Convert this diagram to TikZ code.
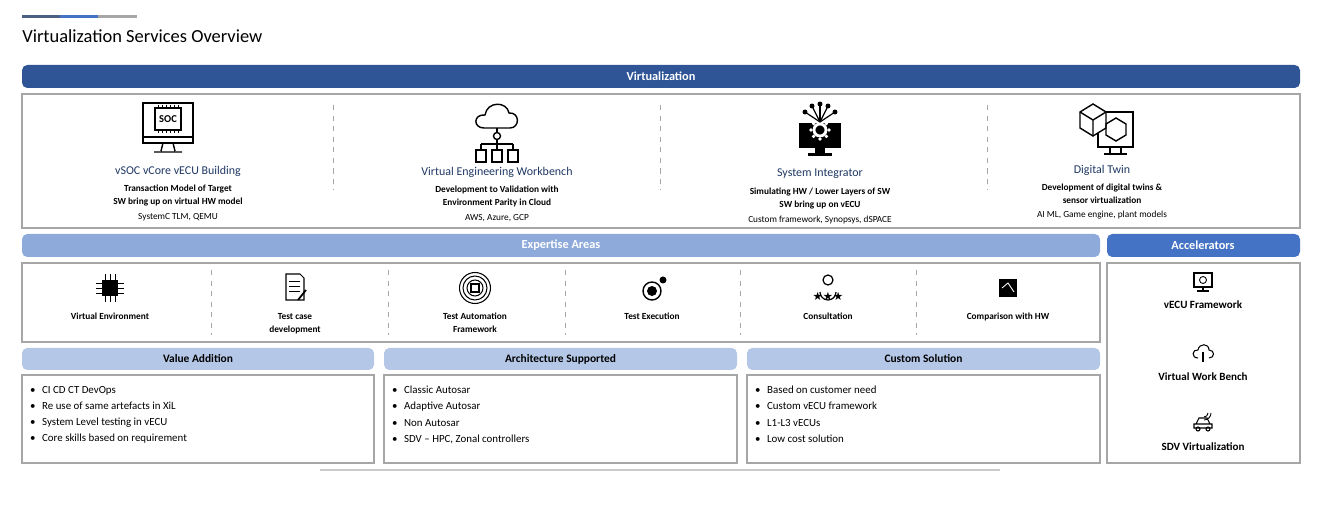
\documentclass[tikz,border=0pt]{standalone}
\usepackage{fontspec}
\setmainfont{Carlito}
\newfontfamily\symfont{DejaVu Sans}
\usepackage{tikz}
\usetikzlibrary{positioning}
\definecolor{darkband}{HTML}{2F5597}
\definecolor{midband}{HTML}{4472C4}
\definecolor{lightband}{HTML}{8EAADB}
\definecolor{paleband}{HTML}{B4C7E7}
\definecolor{navytxt}{HTML}{1F3864}
\definecolor{edgegray}{HTML}{A6A6A6}
\begin{document}
\begin{tikzpicture}
[x=0.02cm, y=-0.02cm,
 band/.style ={draw=none, rounded corners=3pt},
 panel/.style ={draw=edgegray, line width=0.6pt, fill=white},
 sep/.style ={draw=edgegray, dashed, line width=0.4pt},
 bandtxt/.style ={text=white, font=\bfseries\fontsize{7}{8}\selectfont},
 hdrtxt/.style ={text=black, font=\bfseries\fontsize{6.5}{8}\selectfont},
 ttl/.style ={text=navytxt, font=\fontsize{6.8}{8}\selectfont, align=center},
 sub/.style ={font=\bfseries\fontsize{5.3}{7.3}\selectfont, align=center},
 tool/.style ={font=\fontsize{5.3}{7.3}\selectfont, align=center},
 item/.style ={font=\bfseries\fontsize{5.3}{7.3}\selectfont, align=center, anchor=north},
 acc/.style ={font=\bfseries\fontsize{6.3}{8}\selectfont, align=center},
 bullets/.style ={font=\fontsize{6.2}{9.2}\selectfont, align=left, anchor=north west},
 icon/.style ={draw=black, line width=0.8pt}]
\useasboundingbox (0,0) rectangle (1320,520);
% title
\fill[navytxt!80] (22,15) rectangle (60,18);
\fill[midband] (60,15) rectangle (98,18);
\fill[edgegray] (98,15) rectangle (137,18);
\node[anchor=west, font=\fontsize{10.5}{12}\selectfont, inner sep=0pt] (title) at (22,36) {Virtualization Services Overview};
% virtualization
\fill[band, darkband] (22,65) rectangle (1300,88);
\node[bandtxt] (virt) at (661,76.5) {Virtualization};
\draw[panel] (22,94) rectangle (1300,228);
\foreach \x in {333,660,987} \draw[sep] (\x,105) -- (\x,190);
\node[ttl] (t1) at (178,171) {vSOC vCore vECU Building};
\node[sub, below=-2pt of t1] (s1) {Transaction Model of Target\\SW bring up on virtual HW model};
\node[tool, below=-3pt of s1] (k1) {SystemC TLM, QEMU};
\node[ttl] (t2) at (497,172) {Virtual Engineering Workbench};
\node[sub, below=-2pt of t2] (s2) {Development to Validation with\\Environment Parity in Cloud};
\node[tool, below=-3pt of s2] (k2) {AWS, Azure, GCP};
\node[ttl] (t3) at (820,174) {System Integrator};
\node[sub, below=-2pt of t3] (s3) {Simulating HW / Lower Layers of SW\\SW bring up on vECU};
\node[tool, below=-3pt of s3] (k3) {Custom framework, Synopsys, dSPACE};
\node[ttl] (t4) at (1102,170) {Digital Twin};
\node[sub, below=-2pt of t4] (s4) {Development of digital twins \&\\sensor virtualization};
\node[tool, below=-3pt of s4] (k4) {AI ML, Game engine, plant models};
% icon: soc monitor
\draw[icon] (143,103) rectangle (193,143);
\draw[icon] (143,137) -- (193,137);
\draw[icon] (163,143) -- (161,151) (173,143) -- (175,151) (154,152) -- (182,152);
\draw[icon] (155,108) rectangle (181,130);
\node[font=\bfseries\fontsize{6}{6}\selectfont] (socl) at (168,119) {SOC};
\foreach \x in {158,162,...,178} \draw[line width=0.5pt] (\x,105) -- (\x,108) (\x,130) -- (\x,133);
% icon: cloud hierarchy
\draw[icon] (484,128) .. controls (473,128) and (473,114) .. (485,115) .. controls (487,101) and (507,101) .. (509,113) .. controls (520,112) and (520,128) .. (510,128) -- cycle;
\draw[icon] (497,136) circle (3.5);
\draw[icon] (497,128) -- (497,132.5) (497,139.5) -- (497,144) (481,144) -- (513,144) (481,144) -- (481,150) (497,144) -- (497,150) (513,144) -- (513,150);
\draw[icon] (476,150) rectangle (486,162) (492,150) rectangle (502,162) (508,150) rectangle (518,162);
% icon: gear monitor
\fill (799,123) rectangle (841,148);
\fill (815,148) rectangle (825,153);
\fill (808,153) rectangle (832,156);
\draw[white, line width=1.6pt] (820,130) circle (6);
\foreach \a in {0,45,...,315} \fill[white] (820,130) ++(\a:9) circle (1.8);
\foreach \p/\q in {805/112,812/106,820/104,828/106,835/112} \draw[line width=0.7pt] (820,122) -- (\p,\q) node[circle, fill=black, inner sep=1pt] {};
% icon: digital twin
\draw[icon] (1098,112) rectangle (1133,147);
\draw[icon] (1110,147) -- (1110,153) (1121,147) -- (1121,153) (1104,154) -- (1127,154);
\draw[icon, fill=white] (1080,112) -- (1093,104) -- (1106,112) -- (1106,128) -- (1093,136) -- (1080,128) -- cycle;
\draw[icon] (1080,112) -- (1093,120) -- (1106,112) (1093,120) -- (1093,136);
\draw[icon] (1116,118) -- (1126,124) -- (1126,135) -- (1116,141) -- (1106,135) -- (1106,124) -- cycle;
% expertise areas
\fill[band, lightband] (22,234) rectangle (1100,257);
\node[bandtxt] (exp) at (561,245.5) {Expertise Areas};
\fill[band, midband] (1107,234) rectangle (1300,257);
\node[bandtxt] (accb) at (1203,245.5) {Accelerators};
\draw[panel] (22,263) rectangle (1100,342);
\foreach \x in {211,388,565,740,916} \draw[sep] (\x,270) -- (\x,335);
\node[item] (e1) at (110,307) {Virtual Environment};
\node[item] (e2) at (295,307) {Test case\\development};
\node[item] (e3) at (475,307) {Test Automation\\Framework};
\node[item] (e4) at (652,307) {Test Execution};
\node[item] (e5) at (828,307) {Consultation};
\node[item] (e6) at (1008,307) {Comparison with HW};
% small icons
\foreach \y in {283,288,293} \draw[line width=0.5pt] (96,\y) -- (124,\y);
\foreach \x in {105,110,115} \draw[line width=0.5pt] (\x,274) -- (\x,302);
\fill (102,280) rectangle (118,296);
\draw[line width=0.6pt] (286,274) -- (300,274) -- (304,278) -- (304,300) -- (286,300) -- cycle;
\foreach \y in {281,286,291} \draw[line width=0.5pt] (289,\y) -- (300,\y);
\draw[line width=1pt] (298,300) -- (306,290);
\draw[line width=0.6pt] (475,288) circle (8) (475,288) circle (12);
\draw[line width=0.6pt] (471,284) rectangle (479,292);
\draw[line width=0.6pt] (475,288) circle (15.5);
\draw[line width=0.8pt] (652,291) circle (9);
\fill (652,291) circle (5);
\fill (663,280) circle (3.5);
\draw[line width=0.7pt] (828,280) circle (5) (820,292) arc (180:0:8);
\node[font=\symfont\fontsize{6.5}{6.5}\selectfont, inner sep=0pt] (stars) at (828,296) {★★★};
\fill (999,279) rectangle (1017,297);
\draw[white, line width=0.5pt] (1002,288) -- (1008,283) -- (1014,292);
\draw[panel] (1107,263) rectangle (1300,463);
\node[acc] (a1) at (1203,305) {vECU Framework};
\node[acc] (a2) at (1203,377) {Virtual Work Bench};
\node[acc] (a3) at (1203,447) {SDV Virtualization};
\draw[line width=0.6pt] (1194,273) rectangle (1212,287) (1203,287) -- (1203,291) (1197,291) -- (1209,291);
\draw[line width=0.5pt] (1203,280) circle (3.5);
\draw[line width=0.6pt] (1198,358) .. controls (1191,358) and (1192,349) .. (1198,350) .. controls (1199,343) and (1209,343) .. (1209,350) .. controls (1215,350) and (1215,358) .. (1209,358);
\draw[line width=0.6pt] (1203,352) -- (1203,362);
\draw[line width=0.6pt] (1194,428) rectangle (1212,424) (1196,424) -- (1199,418) -- (1207,418) -- (1210,424);
\draw[line width=0.6pt] (1198,429) circle (2) (1208,429) circle (2);
\draw[line width=0.5pt] (1208,413) arc (0:90:4) (1211,413) arc (0:90:7);
% bottom panels
\foreach \x/\w/\nm/\hd in {22/374/va/Value Addition,384/737/as/Architecture Supported,747/1100/cs/Custom Solution}{
  \fill[band, paleband] (\x,348) rectangle (\w,370);
  \node[hdrtxt] (\nm) at ({(\x+\w)/2},359) {\hd};
  \draw[panel] (\x,375) rectangle (\w,463);
}
\node[bullets] (b1) at (24,380) {\textbullet\hspace{0.6em}CI CD CT DevOps\\\textbullet\hspace{0.6em}Re use of same artefacts in XiL\\\textbullet\hspace{0.6em}System Level testing in vECU\\\textbullet\hspace{0.6em}Core skills based on requirement};
\node[bullets] (b2) at (386,380) {\textbullet\hspace{0.6em}Classic Autosar\\\textbullet\hspace{0.6em}Adaptive Autosar\\\textbullet\hspace{0.6em}Non Autosar\\\textbullet\hspace{0.6em}SDV -- HPC, Zonal controllers};
\node[bullets] (b3) at (749,380) {\textbullet\hspace{0.6em}Based on customer need\\\textbullet\hspace{0.6em}Custom vECU framework\\\textbullet\hspace{0.6em}L1-L3 vECUs\\\textbullet\hspace{0.6em}Low cost solution};
\draw[edgegray!60, line width=0.8pt] (320,470) -- (1000,470);
\end{tikzpicture}
\end{document}
